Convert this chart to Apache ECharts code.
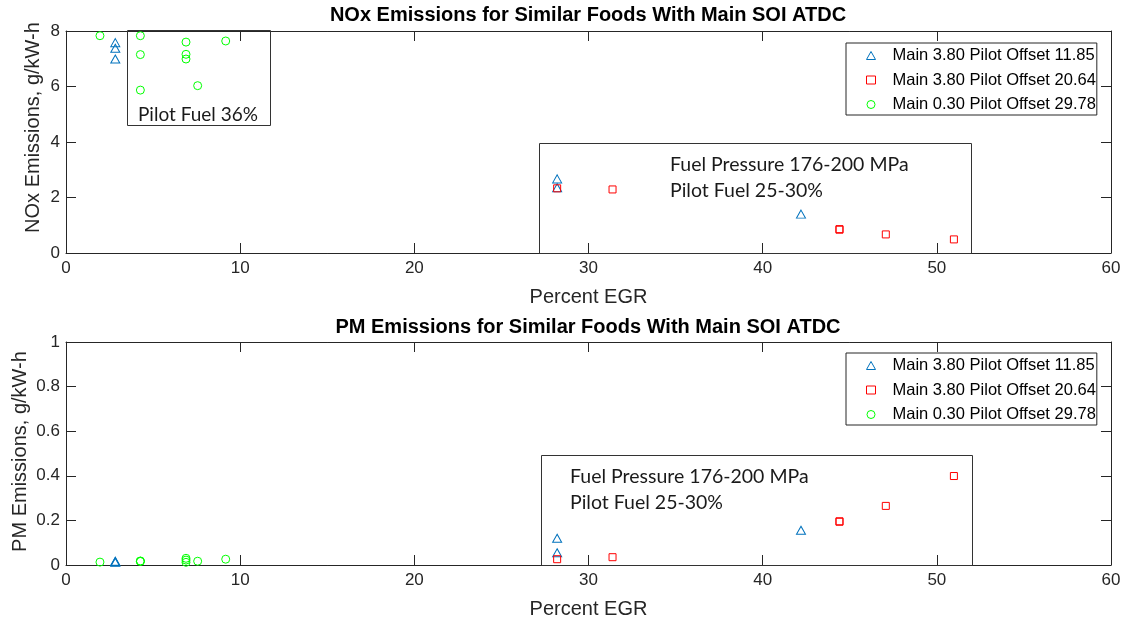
<!DOCTYPE html>
<html>
<head>
<meta charset="utf-8">
<script src="https://cdn.jsdelivr.net/npm/echarts@6/dist/echarts.min.js"></script>
<style>
html,body{margin:0;padding:0;background:#fff;}
#chart{width:1128px;height:625px;}
</style>
</head>
<body>
<div id="chart"></div>
<script>
// ---- data ----
const seriesNames = ['Main 3.80 Pilot Offset 11.85', 'Main 3.80 Pilot Offset 20.64', 'Main 0.30 Pilot Offset 29.78'];
const blueEGR = [2.83, 2.83, 2.83, 28.2, 28.2, 42.2];
const blueNOx = [7.58, 7.38, 6.99, 2.67, 2.35, 1.40];
const bluePM  = [0.012, 0.015, 0.017, 0.12, 0.055, 0.156];
const redEGR = [28.2, 31.38, 44.41, 44.41, 47.07, 50.98];
const redNOx = [2.33, 2.29, 0.86, 0.84, 0.67, 0.49];
const redPM  = [0.026, 0.035, 0.194, 0.196, 0.265, 0.399];
const greenEGR = [1.95, 4.27, 4.27, 4.27, 6.89, 6.89, 6.89, 7.56, 9.17];
const greenNOx = [7.83, 7.83, 7.15, 5.87, 7.60, 7.16, 6.99, 6.03, 7.64];
const greenPM  = [0.013, 0.018, 0.016, 0.017, 0.030, 0.022, 0.012, 0.017, 0.026];
const titles = ['NOx Emissions for Similar Foods With Main SOI ATDC', 'PM Emissions for Similar Foods With Main SOI ATDC'];
const yNames = ['NOx Emissions, g/kW-h', 'PM Emissions, g/kW-h'];
const xName = 'Percent EGR';
const noteTop1 = 'Pilot Fuel 36%';
const noteLines = ['Fuel Pressure 176-200 MPa', 'Pilot Fuel 25-30%'];

const zip = (xs, ys) => xs.map((x, i) => [x, ys[i]]);
const colors = ['#0072BD', '#FF0000', '#00FF00'];
const symbols = ['triangle', 'rect', 'circle'];
const sizes = [[9, 8], 7, 8];
const AX = '#262626';
const FONT = '"Liberation Sans", Arial, sans-serif';
const NOTEFONT = 'Lato, "Open Sans", sans-serif';

const chart = echarts.init(document.getElementById('chart'));

const tickStyle = { show: true, inside: true, length: 10, lineStyle: { color: AX } };
const lineStyle = { show: true, onZero: false, lineStyle: { color: AX } };

function xAxes(gi) {
  return [
    { gridIndex: gi, type: 'value', min: 0, max: 60, interval: 10, position: 'bottom',
      axisLine: lineStyle, axisTick: tickStyle,
      axisLabel: { color: AX, fontSize: 17, fontFamily: FONT, margin: 7 },
      splitLine: { show: false },
      name: xName, nameLocation: 'middle', nameGap: 34,
      nameTextStyle: { color: AX, fontSize: 20, fontFamily: FONT } },
    { gridIndex: gi, type: 'value', min: 0, max: 60, interval: 10, position: 'top',
      axisLine: lineStyle, axisTick: tickStyle,
      axisLabel: { show: false }, splitLine: { show: false } }
  ];
}
function yAxes(gi, max, interval, gap, pad) {
  return [
    { gridIndex: gi, type: 'value', min: 0, max: max, interval: interval, position: 'left',
      axisLine: lineStyle, axisTick: tickStyle,
      axisLabel: { color: AX, fontSize: 17, fontFamily: FONT, margin: 6 },
      splitLine: { show: false },
      name: yNames[gi], nameLocation: 'middle', nameGap: gap, nameMoveOverlap: false,
      nameTextStyle: { color: AX, fontSize: 20, fontFamily: FONT, padding: pad } },
    { gridIndex: gi, type: 'value', min: 0, max: max, interval: interval, position: 'right',
      axisLine: lineStyle, axisTick: tickStyle,
      axisLabel: { show: false }, splitLine: { show: false } }
  ];
}
function mkSeries(gi, datas) {
  return datas.map((d, k) => ({
    type: 'scatter', name: seriesNames[k], xAxisIndex: gi * 2, yAxisIndex: gi * 2,
    symbol: symbols[k], symbolSize: sizes[k],
    itemStyle: { color: 'rgba(0,0,0,0)', borderColor: colors[k], borderWidth: 1, opacity: 1 },
    emphasis: { disabled: true },
    data: d, z: 5
  }));
}
function legend(top) {
  return {
    data: seriesNames.map((n, k) => ({ name: n, icon: symbols[k],
      itemStyle: { color: 'rgba(0,0,0,0)', borderColor: colors[k], borderWidth: 1 } })),
    orient: 'vertical', left: 846, top: top,
    itemWidth: 9, itemHeight: 8, itemGap: 7.5,
    padding: [4, 1, 2, 20],
    backgroundColor: '#fff', borderColor: AX, borderWidth: 1,
    textStyle: { color: '#000', fontSize: 16.5, fontFamily: FONT, padding: [0, 0, 0, 12], lineHeight: 16.5 },
    selectedMode: false
  };
}

const option = {
  animation: false,
  backgroundColor: '#fff',
  title: [
    { text: titles[0], left: 588, top: 5, textAlign: 'center', padding: 0,
      textStyle: { fontSize: 20, fontWeight: 'bold', color: '#000', fontFamily: FONT } },
    { text: titles[1], left: 588, top: 317, textAlign: 'center', padding: 0,
      textStyle: { fontSize: 20, fontWeight: 'bold', color: '#000', fontFamily: FONT } }
  ],
  grid: [
    { left: 66, top: 31, width: 1045, height: 222, outerBoundsMode: 'none', containLabel: false },
    { left: 66, top: 342, width: 1045, height: 223, outerBoundsMode: 'none', containLabel: false }
  ],
  xAxis: [...xAxes(0), ...xAxes(1)],
  yAxis: [...yAxes(0, 8, 2, 23, [0, 0, 0, 29]), ...yAxes(1, 1, 0.2, 36, [0, 0, 0, 4])],
  legend: [legend(43), legend(353)],
  series: [
    ...mkSeries(0, [zip(blueEGR, blueNOx), zip(redEGR, redNOx), zip(greenEGR, greenNOx)]),
    ...mkSeries(1, [zip(blueEGR, bluePM), zip(redEGR, redPM), zip(greenEGR, greenPM)])
  ],
  graphic: [
    { type: 'rect', shape: { x: 127.5, y: 30.5, width: 143, height: 95 },
      style: { fill: 'none', stroke: '#333', lineWidth: 1 }, z: 1 },
    { type: 'text', x: 138, y: 115, style: { text: noteTop1, font: '19px ' + NOTEFONT, fill: '#1a1a1a', verticalAlign: 'middle' }, z: 1 },
    { type: 'rect', shape: { x: 539.5, y: 143.5, width: 432, height: 110 },
      style: { fill: 'none', stroke: '#333', lineWidth: 1 }, z: 1 },
    { type: 'text', x: 670, y: 165, style: { text: noteLines[0], font: '19.5px ' + NOTEFONT, fill: '#1a1a1a', verticalAlign: 'middle' }, z: 1 },
    { type: 'text', x: 670, y: 191, style: { text: noteLines[1], font: '19.5px ' + NOTEFONT, fill: '#1a1a1a', verticalAlign: 'middle' }, z: 1 },
    { type: 'rect', shape: { x: 541.5, y: 455.5, width: 431, height: 110 },
      style: { fill: 'none', stroke: '#333', lineWidth: 1 }, z: 1 },
    { type: 'text', x: 570, y: 477, style: { text: noteLines[0], font: '19.5px ' + NOTEFONT, fill: '#1a1a1a', verticalAlign: 'middle' }, z: 1 },
    { type: 'text', x: 570, y: 503, style: { text: noteLines[1], font: '19.5px ' + NOTEFONT, fill: '#1a1a1a', verticalAlign: 'middle' }, z: 1 }
  ]
};
chart.setOption(option);
</script>
</body>
</html>
